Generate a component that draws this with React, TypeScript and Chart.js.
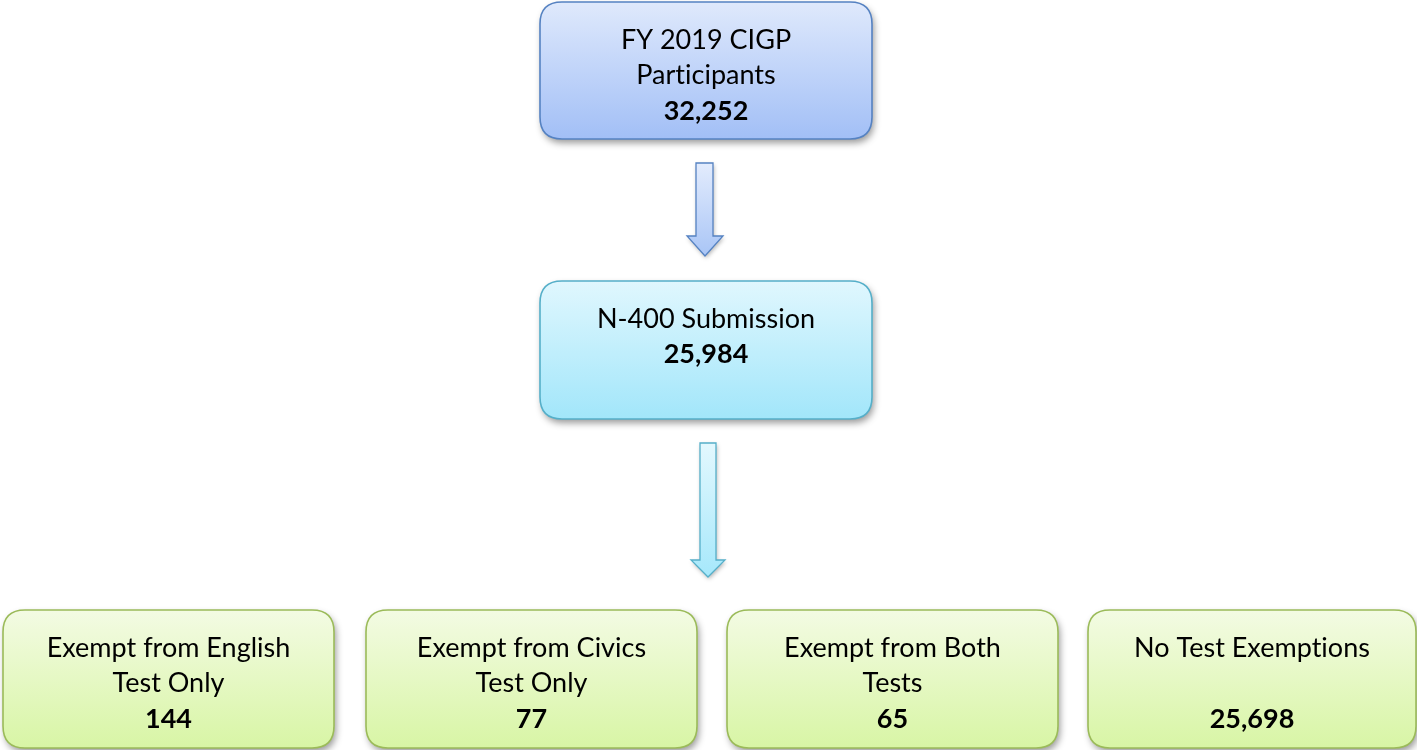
import React, { useEffect, useRef } from "react";
import { Chart, registerables } from "chart.js";

Chart.register(...registerables);

// ---- data ----
const nodeLabels: string[][] = [
  ["FY 2019 CIGP", "Participants"],
  ["N-400 Submission"],
  ["Exempt from English", "Test Only"],
  ["Exempt from Civics", "Test Only"],
  ["Exempt from Both", "Tests"],
  ["No Test Exemptions", ""],
];
const nodeValues: number[] = [32252, 25984, 144, 77, 65, 25698];
const nodeLevels: number[] = [0, 1, 2, 2, 2, 2];
const arrowLinks: [number, number][] = [
  [0, 1],
  [1, 2],
];

// ---- layout (chart units == pixels of the 1417x750 canvas) ----
const W = 1417;
const H = 750;
const boxX0 = [540, 540, 3, 366, 727, 1088];
const boxX1 = [872, 872, 334, 697, 1058, 1416];
const boxY0 = [2, 281, 610, 610, 610, 610];
const boxY1 = [139, 419, 748, 748, 748, 748];
// arrows: shaft left/right, shaft top, head top, head left/right, tip
const arrowGeom = [
  { sx0: 696, sx1: 713, top: 163, headTop: 236, hx0: 687, hx1: 723, tip: 256 },
  { sx0: 700, sx1: 716, top: 443, headTop: 560, hx0: 691, hx1: 725, tip: 577 },
];

const levelStyles = [
  { top: "#dfe9fc", bottom: "#a2bff6", border: "#5582c2", aTop: "#e3ecfd", aBottom: "#a9c5f6" },
  { top: "#e0f7fe", bottom: "#a2e6fa", border: "#55afc9", aTop: "#e3f8fe", aBottom: "#a6e8fb" },
  { top: "#f3fbe3", bottom: "#d8f5a5", border: "#9bbb59", aTop: "#f3fbe3", aBottom: "#d8f5a5" },
];

const FONT = "Lato, 'Open Sans', sans-serif";

function roundRect(ctx: CanvasRenderingContext2D, x0: number, y0: number, x1: number, y1: number, r: number) {
  ctx.beginPath();
  ctx.moveTo(x0 + r, y0);
  ctx.lineTo(x1 - r, y0);
  ctx.quadraticCurveTo(x1, y0, x1, y0 + r);
  ctx.lineTo(x1, y1 - r);
  ctx.quadraticCurveTo(x1, y1, x1 - r, y1);
  ctx.lineTo(x0 + r, y1);
  ctx.quadraticCurveTo(x0, y1, x0, y1 - r);
  ctx.lineTo(x0, y0 + r);
  ctx.quadraticCurveTo(x0, y0, x0 + r, y0);
  ctx.closePath();
}

const flowPlugin = {
  id: "flow",
  afterDatasetsDraw(chart: any) {
    const ctx: CanvasRenderingContext2D = chart.ctx;
    const xs = chart.scales.x;
    const ys = chart.scales.y;
    const px = (v: number) => xs.getPixelForValue(v);
    const py = (v: number) => ys.getPixelForValue(v);

    // arrows
    arrowLinks.forEach((link, i) => {
      const g = arrowGeom[i];
      const st = levelStyles[nodeLevels[link[0]]];
      ctx.save();
      ctx.beginPath();
      ctx.moveTo(px(g.sx0), py(g.top));
      ctx.lineTo(px(g.sx1), py(g.top));
      ctx.lineTo(px(g.sx1), py(g.headTop));
      ctx.lineTo(px(g.hx1), py(g.headTop));
      ctx.lineTo(px((g.hx0 + g.hx1) / 2), py(g.tip));
      ctx.lineTo(px(g.hx0), py(g.headTop));
      ctx.lineTo(px(g.sx0), py(g.headTop));
      ctx.closePath();
      const grad = ctx.createLinearGradient(0, py(g.top), 0, py(g.tip));
      grad.addColorStop(0, st.aTop);
      grad.addColorStop(1, st.aBottom);
      ctx.shadowColor = "rgba(0,0,0,0.3)";
      ctx.shadowBlur = 4;
      ctx.shadowOffsetX = 1;
      ctx.shadowOffsetY = 2;
      ctx.fillStyle = grad;
      ctx.fill();
      ctx.shadowColor = "transparent";
      ctx.lineWidth = 1.3;
      ctx.strokeStyle = st.border;
      ctx.lineJoin = "miter";
      ctx.stroke();
      ctx.restore();
    });

    // boxes
    nodeLabels.forEach((labels, i) => {
      const st = levelStyles[nodeLevels[i]];
      const x0 = px(boxX0[i]);
      const x1 = px(boxX1[i]);
      const y0 = py(boxY0[i]);
      const y1 = py(boxY1[i]);
      ctx.save();
      roundRect(ctx, x0, y0, x1, y1, 22);
      const grad = ctx.createLinearGradient(0, y0, 0, y1);
      grad.addColorStop(0, st.top);
      grad.addColorStop(1, st.bottom);
      ctx.fillStyle = grad;
      ctx.shadowColor = "rgba(0,0,0,0.4)";
      ctx.shadowBlur = 7;
      ctx.shadowOffsetX = 2;
      ctx.shadowOffsetY = 4;
      ctx.fill();
      ctx.shadowColor = "transparent";
      ctx.lineWidth = 1.6;
      ctx.strokeStyle = st.border;
      ctx.stroke();

      const cx = (x0 + x1) / 2;
      ctx.fillStyle = "#000000";
      ctx.textAlign = "center";
      ctx.textBaseline = "middle";
      (ctx as any).letterSpacing = "0.01px";
      labels.forEach((t, j) => {
        ctx.font = `400 27px ${FONT}`;
        ctx.fillText(t, cx, y0 + 38 + 35.5 * j);
      });
      ctx.font = `700 27px ${FONT}`;
      ctx.fillText(nodeValues[i].toLocaleString("en-US"), cx, y0 + 38 + 35.5 * labels.length);
      ctx.restore();
    });
  },
};

export default function App() {
  const ref = useRef<HTMLCanvasElement | null>(null);
  useEffect(() => {
    document.body.style.margin = "0";
    const canvas = ref.current!;
    const chart = new Chart(canvas, {
      type: "scatter",
      data: {
        datasets: [
          {
            data: nodeLabels.map((_, i) => ({
              x: (boxX0[i] + boxX1[i]) / 2,
              y: (boxY0[i] + boxY1[i]) / 2,
            })),
            pointRadius: 0,
            pointHoverRadius: 0,
          },
        ],
      },
      options: {
        animation: false,
        responsive: false,
        events: [],
        layout: { padding: 0 },
        plugins: { legend: { display: false }, tooltip: { enabled: false } },
        scales: {
          x: { type: "linear", min: 0, max: W, display: false },
          y: { type: "linear", min: 0, max: H, reverse: true, display: false },
        },
      },
      plugins: [flowPlugin],
    });
    return () => chart.destroy();
  }, []);
  return (
    <div style={{ width: W, height: H, background: "#ffffff" }}>
      <canvas ref={ref} width={W} height={H} style={{ display: "block" }} />
    </div>
  );
}
